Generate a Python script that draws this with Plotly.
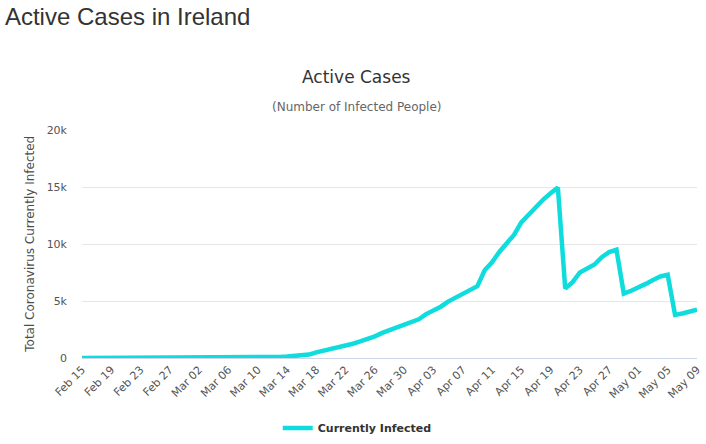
import pandas as pd
import plotly.graph_objects as go

# Active cases in Ireland, one value per day from Feb 15 to May 09 (2020)
dates = pd.date_range("2020-02-15", "2020-05-09", freq="D")

active = [
    0, 0, 0, 0, 0, 0, 0, 0, 0, 0, 0, 0, 0, 0,           # Feb 15 - Feb 28
    1, 1, 1, 2, 6, 13, 18, 19, 21, 21,                   # Feb 29 - Mar 09
    34, 43, 70, 90, 129, 169, 250, 300, 500, 650,        # Mar 10 - Mar 19
    780, 880, 1000, 1250, 1450, 1650, 1900, 2200, 2450, 2600,   # Mar 20 - Mar 29
    2900, 3200, 3400, 3850, 4150, 4500, 4950, 5300, 5600, 5900, # Mar 30 - Apr 08
    6300, 7700, 8400, 9300, 10100, 10800, 11900, 12600, 13300, 13900,  # Apr 09 - Apr 18
    14450, 14950, 6100, 6650, 7500, 7850, 8200, 8850, 9300, 9500,      # Apr 19 - Apr 28
    5650, 5900, 6150, 6500, 6850, 7150, 7300, 3780, 3900, 4050,        # Apr 29 - May 08
    4250,                                                               # May 09
]

y_ticks = [0, 5000, 10000, 15000, 20000]
y_tick_text = ["0", "5k", "10k", "15k", "20k"]

fig = go.Figure()

fig.add_trace(go.Scatter(
    x=dates, y=active,
    name="Currently Infected",
    mode="lines",
    line=dict(color="#0fdddd", width=4.5),
))

fig.update_layout(
    width=706, height=444,
    margin=dict(l=82, r=9, t=130, b=86),
    paper_bgcolor="white", plot_bgcolor="white",
    font=dict(family="DejaVu Sans", color="#666666"),
    title=dict(
        text="Active Cases in Ireland",
        x=0.007, xanchor="left", xref="container",
        y=0.963, yanchor="middle", yref="container",
        font=dict(family="Liberation Sans", size=24, color="#333333"),
    ),
    showlegend=True,
    legend=dict(
        orientation="h", x=0.506, xanchor="center", xref="container",
        y=0.036, yanchor="middle", yref="container",
        font=dict(size=11, color="#333333", weight="bold"),
    ),
    annotations=[
        dict(text="Active Cases", x=0.447, y=1.232, xref="paper", yref="paper",
             showarrow=False, xanchor="center", yanchor="middle",
             font=dict(size=17, color="#333333")),
        dict(text="(Number of Infected People)", x=0.447, y=1.101,
             xref="paper", yref="paper", showarrow=False,
             xanchor="center", yanchor="middle",
             font=dict(size=12, color="#666666")),
        dict(text="Total Coronavirus Currently Infected", x=-0.085, y=0.5,
             xref="paper", yref="paper", showarrow=False, textangle=-90,
             xanchor="center", yanchor="middle",
             font=dict(size=12, color="#4d4d4d")),
    ],
)

fig.update_xaxes(
    type="date",
    range=[dates[0], dates[-1]],
    tick0="2020-02-15", dtick=4 * 86400000,
    tickformat="%b %d", tickangle=-45,
    tickfont=dict(size=11, color="#555555"),
    showgrid=False, zeroline=False,
    showline=True, linecolor="#ccd6eb", linewidth=1,
    ticks="", automargin=False,
)

fig.update_yaxes(
    range=[0, 20000],
    tickvals=y_ticks, ticktext=y_tick_text,
    tickfont=dict(size=11, color="#555555"),
    showgrid=True, gridcolor="#e6e6e6", gridwidth=1,
    zeroline=False, showline=False,
    ticklabelstandoff=14, automargin=False,
)

# drop the browser's default 8px body margin so the figure sits at the page corner
fig.write_html("out.html", config={"displayModeBar": False},
               post_script="document.body.style.margin='0';")
